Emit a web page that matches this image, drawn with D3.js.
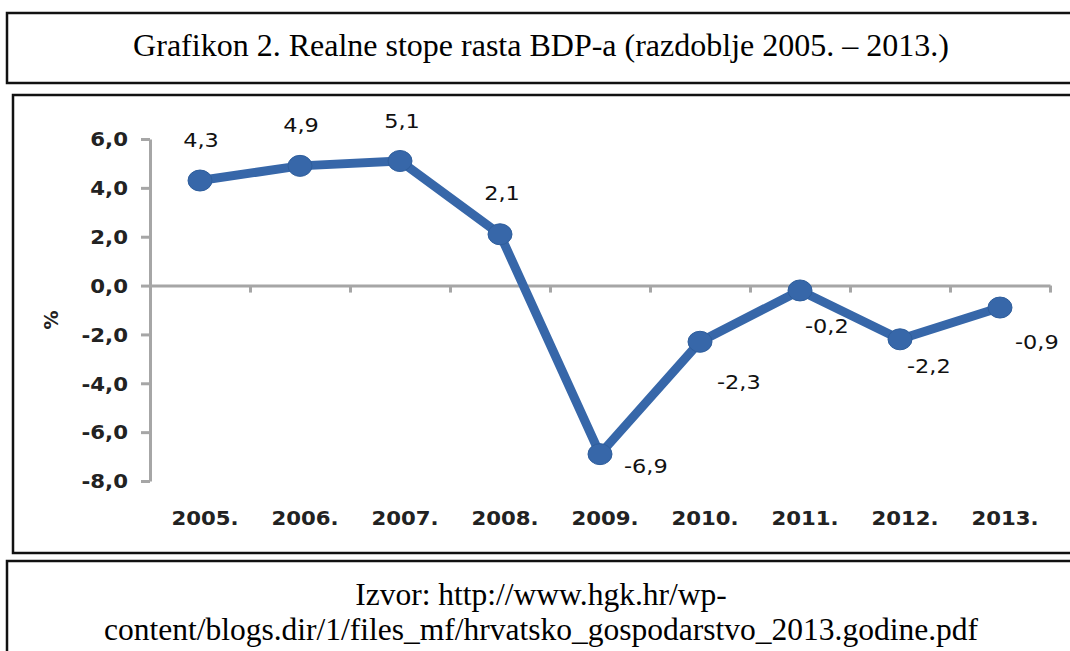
<!DOCTYPE html>
<html>
<head>
<meta charset="utf-8">
<script src="https://cdn.jsdelivr.net/npm/d3@7"></script>
<style>
    body { margin: 0; background: #fff; }
    svg { display: block; }
</style>
</head>
<body>
<div id="root"></div>
<script>
const WIDTH = 1070;
const HEIGHT = 651;

const years = ["2005.", "2006.", "2007.", "2008.", "2009.", "2010.", "2011.", "2012.", "2013."];
const growth = [4.3, 4.9, 5.1, 2.1, -6.9, -2.3, -0.2, -2.2, -0.9];
const yTicks = [6, 4, 2, 0, -2, -4, -6, -8];

const TITLE = "Grafikon 2. Realne stope rasta BDP-a (razdoblje 2005. – 2013.)";
const SOURCE_LINES = ["Izvor: http://www.hgk.hr/wp-", "content/blogs.dir/1/files_mf/hrvatsko_gospodarstvo_2013.godine.pdf"];

// label placement relative to its point (Excel put them by hand)
const LABEL_OFFSETS = [[1, -34], [1, -34], [2, -33], [2, -34], [24, 19], [17, 47], [5, 43], [7, 34], [15, 41]];

const PLOT = {left: 150, right: 1050, top: 139, bottom: 481};
const LINE_COLOR = "#3767a9";
const AXIS_COLOR = "#a6a6a6";
const SANS = "DejaVu Sans";
const SERIF = "Liberation Serif, Times New Roman, serif";
const STRETCH = 1.12; // the chart picture is a bit wider than tall

const locale = d3.formatLocale({decimal: ",", thousands: ".", grouping: [3], currency: ["", ""], minus: "-"});
const fmt = locale.format(".1f");

const xScale = d3.scaleBand()
    .domain(years)
    .range([PLOT.left, PLOT.right]);

const xEdge = d3.scaleLinear()
    .domain([0, years.length])
    .range([PLOT.left, PLOT.right]);

const yScale = d3.scaleLinear()
    .domain([-8, 6])
    .range([PLOT.bottom, PLOT.top]);

const cx = d => xScale(d) + xScale.bandwidth() / 2;

const svg = d3.select("#root")
    .append("svg")
    .attr("width", WIDTH)
    .attr("height", HEIGHT);

svg.append("rect")
    .attr("width", WIDTH)
    .attr("height", HEIGHT)
    .attr("fill", "#fff");

// frames
const frames = [
    {x: 7, y: 13, h: 70},
    {x: 13, y: 95, h: 458},
    {x: 7, y: 561, h: 120}
];
svg.selectAll(".frame")
    .data(frames)
    .enter()
    .append("rect")
    .attr("class", "frame")
    .attr("x", d => d.x)
    .attr("y", d => d.y)
    .attr("width", WIDTH + 20)
    .attr("height", d => d.h)
    .attr("fill", "none")
    .attr("stroke", "#111")
    .attr("stroke-width", 2.5);

svg.append("text")
    .attr("x", 541)
    .attr("y", 56)
    .attr("text-anchor", "middle")
    .style("font-family", SERIF)
    .style("font-size", "32px")
    .style("fill", "#000")
    .text(TITLE);

svg.selectAll(".source")
    .data(SOURCE_LINES)
    .enter()
    .append("text")
    .attr("class", "source")
    .attr("x", 541)
    .attr("y", (d, i) => 605 + i * 35)
    .attr("text-anchor", "middle")
    .style("font-family", SERIF)
    .style("font-size", "31.5px")
    .style("fill", "#000")
    .text(d => d);

// y axis
const yAxis = d3.axisLeft(yScale)
    .tickValues(yTicks)
    .tickFormat(fmt)
    .tickSize(9)
    .tickSizeOuter(0);

const yAxisG = svg.append("g")
    .attr("transform", `translate(${PLOT.left}, 0)`)
    .call(yAxis);

yAxisG.select(".domain")
    .attr("stroke", AXIS_COLOR)
    .attr("stroke-width", 3);
yAxisG.selectAll(".tick line")
    .attr("stroke", AXIS_COLOR)
    .attr("stroke-width", 3);
yAxisG.selectAll(".tick text")
    .attr("x", null)
    .attr("dy", "0.36em")
    .attr("transform", `translate(-22, 0) scale(${STRETCH}, 1)`)
    .style("font-family", SANS)
    .style("font-size", "19px")
    .style("font-weight", "bold")
    .style("fill", "#222");

// x axis on the zero line, ticks between categories
const xAxis = d3.axisBottom(xEdge)
    .tickValues(d3.range(1, years.length + 1))
    .tickFormat("")
    .tickSize(7)
    .tickSizeOuter(0);

const xAxisG = svg.append("g")
    .attr("transform", `translate(0, ${yScale(0)})`)
    .call(xAxis);

xAxisG.select(".domain")
    .attr("stroke", AXIS_COLOR)
    .attr("stroke-width", 3);
xAxisG.selectAll(".tick line")
    .attr("stroke", AXIS_COLOR)
    .attr("stroke-width", 3);

// category labels at the bottom
svg.selectAll(".xlabel")
    .data(years)
    .enter()
    .append("text")
    .attr("class", "xlabel")
    .attr("text-anchor", "middle")
    .attr("transform", d => `translate(${cx(d) + 5}, 525) scale(1.09, 1)`)
    .style("font-family", SANS)
    .style("font-size", "19.5px")
    .style("font-weight", "bold")
    .style("fill", "#222")
    .text(d => d);

// axis title
svg.append("text")
    .attr("text-anchor", "middle")
    .attr("transform", "translate(58, 320) rotate(-90)")
    .style("font-family", SANS)
    .style("font-size", "19px")
    .style("font-weight", "bold")
    .style("fill", "#222")
    .text("%");

// series
const points = years.map((y, i) => ({year: y, value: growth[i], offset: LABEL_OFFSETS[i]}));

const line = d3.line()
    .x(d => cx(d.year))
    .y(d => yScale(d.value));

svg.append("path")
    .datum(points)
    .attr("d", line)
    .attr("fill", "none")
    .attr("stroke", LINE_COLOR)
    .attr("stroke-width", 9)
    .attr("stroke-linejoin", "round");

svg.selectAll(".marker")
    .data(points)
    .enter()
    .append("ellipse")
    .attr("class", "marker")
    .attr("cx", d => cx(d.year))
    .attr("cy", d => yScale(d.value))
    .attr("rx", 12)
    .attr("ry", 10.5)
    .attr("fill", LINE_COLOR)
    .attr("stroke", "#2f5e9c")
    .attr("stroke-width", 1);

svg.selectAll(".vlabel")
    .data(points)
    .enter()
    .append("text")
    .attr("class", "vlabel")
    .attr("text-anchor", d => d.value >= 0 ? "middle" : "start")
    .attr("transform", d => `translate(${cx(d.year) + d.offset[0]}, ${yScale(d.value) + d.offset[1]}) scale(${STRETCH}, 1)`)
    .style("font-family", SANS)
    .style("font-size", "20px")
    .style("fill", "#111")
    .text(d => fmt(d.value));
</script>
</body>
</html>
